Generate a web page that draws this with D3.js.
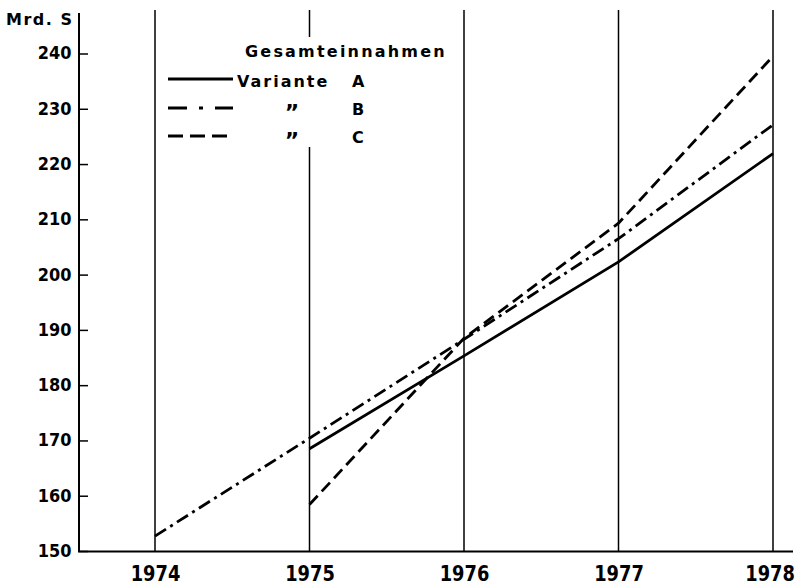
<!DOCTYPE html>
<html>
<head>
<meta charset="utf-8">
<script src="https://cdn.jsdelivr.net/npm/d3@7"></script>
<style>
  html, body { margin: 0; padding: 0; background: #fff; }
  svg text { font-family: "DejaVu Sans", "Liberation Sans", sans-serif; font-weight: bold; fill: #000; }
</style>
</head>
<body>
<svg id="chart" width="798" height="587"></svg>
<script>
// ---- data ----
const years = [1974, 1975, 1976, 1977, 1978];
const yTicks = [150, 160, 170, 180, 190, 200, 210, 220, 230, 240];
const yUnit = "Mrd. S";
const legendTitle = "Gesamteinnahmen";
const seriesNames = ["A", "B", "C"];
const legendPrefix = ["Variante", "\u201D", "\u201D"];
const yearsA = [1975, 1976, 1977, 1978];
const valuesA = [168.5, 185.3, 202.3, 221.9];
const yearsB = [1974, 1975, 1976, 1977, 1978];
const valuesB = [152.7, 170.4, 188.3, 206.5, 227.1];
const yearsC = [1975, 1976, 1977, 1978];
const valuesC = [158.4, 188.5, 209.3, 239.5];

const series = [
  { name: "A", xs: yearsA, vs: valuesA, dash: null, legendDash: null },
  { name: "B", xs: yearsB, vs: valuesB, dash: "13,5,3,5", legendDash: "19,12,4,12" },
  { name: "C", xs: yearsC, vs: valuesC, dash: "12,6", legendDash: "15,7" }
];

const svg = d3.select("#chart");
const x = d3.scaleLinear().domain([1974, 1978]).range([155, 773]);
const y = d3.scaleLinear().domain([150, 240]).range([551, 53.5]);
const axisX0 = 79;

// vertical year lines
svg.append("g").selectAll("line").data(years).join("line")
  .attr("x1", d => x(d)).attr("x2", d => x(d))
  .attr("y1", 10).attr("y2", 551)
  .attr("stroke", "#000").attr("stroke-width", 1.5);

// legend background (hides grid line behind legend)
svg.append("rect").attr("x", 238).attr("y", 37).attr("width", 215).attr("height", 110).attr("fill", "#fff");

// series lines
const line = d3.line().x(d => x(d[0])).y(d => y(d[1]));
svg.append("g").selectAll("path").data(series).join("path")
  .attr("d", s => line(s.xs.map((yr, i) => [yr, s.vs[i]])))
  .attr("fill", "none").attr("stroke", "#000").attr("stroke-width", 2.8)
  .attr("stroke-dasharray", s => s.dash);

// y axis
const yAxis = d3.axisLeft(y).tickValues(yTicks).tickSizeInner(-9).tickSizeOuter(0).tickPadding(8);
const gy = svg.append("g").attr("transform", `translate(${axisX0},0)`).call(yAxis);
gy.select(".domain").remove();
gy.selectAll(".tick line").attr("stroke", "#000").attr("stroke-width", 1.5);
gy.selectAll(".tick text").attr("font-size", 17).attr("transform", "scale(0.95,1)")
  .style("font-family", "DejaVu Sans").style("font-weight", "bold").attr("fill", "#000");
svg.append("line").attr("x1", axisX0).attr("x2", axisX0).attr("y1", 13).attr("y2", 552)
  .attr("stroke", "#000").attr("stroke-width", 2);

// x axis
const xAxis = d3.axisBottom(x).tickValues(years).tickFormat(d3.format("d")).tickSize(0).tickPadding(15);
const gx = svg.append("g").attr("transform", "translate(0,551)").call(xAxis);
gx.select(".domain").remove();
gx.selectAll(".tick text").attr("font-size", 21).attr("transform", "scale(0.85,1)")
  .attr("dx", d => d === 1978 ? -4 : 0)
  .style("font-family", "DejaVu Sans").style("font-weight", "bold").attr("fill", "#000");
svg.append("line").attr("x1", axisX0 - 1).attr("x2", 793).attr("y1", 551.5).attr("y2", 551.5)
  .attr("stroke", "#000").attr("stroke-width", 2.2);

// unit label
svg.append("text").attr("x", 6).attr("y", 25).attr("font-size", 16).attr("letter-spacing", 1.5).text(yUnit);

// legend
svg.append("text").attr("x", 245).attr("y", 57).attr("font-size", 16).attr("letter-spacing", 2.2).text(legendTitle);
const rowY = [79, 108, 136];
const lg = svg.append("g").selectAll("g").data(series).join("g");
lg.append("line").attr("x1", 168).attr("x2", 233)
  .attr("y1", (d, i) => rowY[i]).attr("y2", (d, i) => rowY[i])
  .attr("stroke", "#000").attr("stroke-width", 2.8)
  .attr("stroke-dasharray", d => d.legendDash);
lg.append("text")
  .attr("x", (d, i) => i === 0 ? 237 : 293)
  .attr("text-anchor", (d, i) => i === 0 ? "start" : "middle")
  .attr("y", (d, i) => i === 0 ? rowY[i] + 8 : rowY[i] + 12)
  .attr("font-size", (d, i) => i === 0 ? 16 : 22).attr("letter-spacing", 2)
  .text((d, i) => legendPrefix[i]);
lg.append("text").attr("x", 352).attr("y", (d, i) => rowY[i] + 7 + (i === 0 ? 1 : 0))
  .attr("font-size", 16).text((d, i) => seriesNames[i]);
</script>
</body>
</html>
